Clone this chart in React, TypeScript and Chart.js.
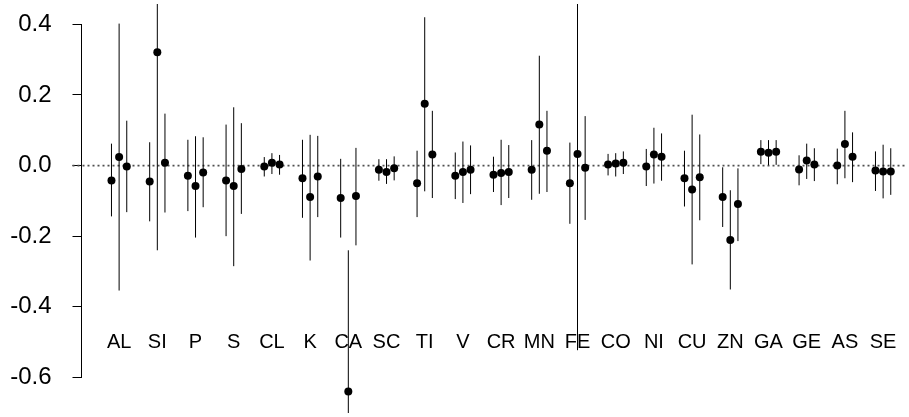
import { useEffect, useRef } from "react";
import { Chart, registerables } from "chart.js";
Chart.register(...registerables);

const ELEMENTS = ["AL","SI","P","S","CL","K","CA","SC","TI","V","CR","MN","FE","CO","NI","CU","ZN","GA","GE","AS","SE"];

const EST_A = [-0.042,-0.045,-0.029,-0.042,-0.003,-0.036,-0.092,-0.012,-0.050,-0.029,-0.026,-0.012,-0.050,0.003,-0.003,-0.036,-0.089,0.039,-0.011,0.000,-0.014];
const LO_A = [-0.144,-0.158,-0.129,-0.200,-0.031,-0.148,-0.204,-0.043,-0.146,-0.095,-0.075,-0.097,-0.165,-0.028,-0.058,-0.116,-0.174,0.004,-0.056,-0.053,-0.072];
const HI_A = [0.062,0.066,0.073,0.116,0.024,0.073,0.019,0.018,0.042,0.037,0.025,0.072,0.065,0.033,0.047,0.042,-0.005,0.072,0.029,0.048,0.040];

const EST_B = [0.024,0.321,-0.058,-0.058,0.008,-0.089,-0.640,-0.018,0.175,-0.018,-0.021,0.116,0.033,0.006,0.031,-0.068,-0.211,0.036,0.014,0.061,-0.017];
const LO_B = [-0.354,-0.240,-0.204,-0.285,-0.024,-0.269,-1.040,-0.052,-0.073,-0.106,-0.112,-0.080,-0.523,-0.031,-0.051,-0.280,-0.351,0.001,-0.038,-0.036,-0.093];
const HI_B = [0.402,0.880,0.083,0.165,0.035,0.087,-0.240,0.018,0.420,0.068,0.073,0.311,0.590,0.035,0.107,0.144,-0.070,0.072,0.062,0.155,0.059];

const EST_C = [-0.003,0.008,-0.020,-0.010,0.003,-0.031,-0.086,-0.008,0.031,-0.012,-0.018,0.042,-0.006,0.008,0.025,-0.033,-0.109,0.039,0.003,0.025,-0.017];
const LO_C = [-0.132,-0.133,-0.118,-0.137,-0.026,-0.146,-0.226,-0.042,-0.092,-0.081,-0.092,-0.075,-0.154,-0.024,-0.043,-0.155,-0.214,0.002,-0.044,-0.047,-0.083];
const HI_C = [0.127,0.147,0.080,0.120,0.030,0.084,0.050,0.026,0.155,0.057,0.058,0.155,0.140,0.040,0.091,0.088,-0.008,0.072,0.049,0.094,0.049];

const Y_TICKS = [-0.6, -0.4, -0.2, 0.0, 0.2, 0.4];
const OFFSETS = [-0.2, 0, 0.2];
const LABEL_Y = -0.5;

const FONT = "'Liberation Sans', Arial, Helvetica, sans-serif";

export default function App() {
  const ref = useRef<HTMLCanvasElement | null>(null);

  useEffect(() => {
    if (!ref.current) return;
    const series = [
      { est: EST_A, lo: LO_A, hi: HI_A, off: OFFSETS[0] },
      { est: EST_B, lo: LO_B, hi: HI_B, off: OFFSETS[1] },
      { est: EST_C, lo: LO_C, hi: HI_C, off: OFFSETS[2] },
    ];
    const points: any[] = [];
    const bars: any[] = [];
    series.forEach((s) => {
      ELEMENTS.forEach((_, i) => {
        const x = i + 1 + s.off;
        points.push({ x, y: s.est[i] });
        bars.push({ x, y: s.lo[i] }, { x, y: s.hi[i] }, { x, y: null });
      });
    });

    const decor = {
      id: "decor",
      beforeDatasetsDraw(chart: any) {
        const { ctx, chartArea, scales } = chart;
        const y0 = scales.y.getPixelForValue(0);
        ctx.save();
        ctx.strokeStyle = "#505050";
        ctx.lineWidth = 1.8;
        ctx.setLineDash([2, 3]);
        ctx.beginPath();
        ctx.moveTo(chartArea.left - 9, y0);
        ctx.lineTo(chartArea.right, y0);
        ctx.stroke();
        ctx.restore();
      },
      afterDraw(chart: any) {
        const { ctx, chartArea, scales } = chart;
        ctx.save();
        ctx.strokeStyle = "#000";
        ctx.lineWidth = 1;
        const yt = scales.y.getPixelForValue(Y_TICKS[Y_TICKS.length - 1]);
        const yb = scales.y.getPixelForValue(Y_TICKS[0]);
        ctx.beginPath();
        ctx.moveTo(chartArea.left, yt);
        ctx.lineTo(chartArea.left, yb);
        ctx.stroke();
        ctx.fillStyle = "#000";
        ctx.font = `20px ${FONT}`;
        ctx.textAlign = "center";
        ctx.textBaseline = "middle";
        const ly = scales.y.getPixelForValue(LABEL_Y);
        ELEMENTS.forEach((el, i) => {
          ctx.fillText(el, scales.x.getPixelForValue(i + 1), ly);
        });
        ctx.restore();
      },
    };

    const chart = new Chart(ref.current, {
      type: "scatter",
      data: {
        datasets: [
          {
            data: points,
            pointRadius: 4,
            pointHoverRadius: 4,
            backgroundColor: "#000",
            borderWidth: 0,
            showLine: false,
          },
          {
            data: bars,
            showLine: true,
            spanGaps: false,
            pointRadius: 0,
            borderColor: "#000",
            borderWidth: 1,
          } as any,
        ],
      },
      options: {
        animation: false,
        responsive: false,
        devicePixelRatio: 1,
        events: [],
        layout: { padding: 0 },
        plugins: { legend: { display: false }, tooltip: { enabled: false } },
        scales: {
          x: { type: "linear", display: false, min: 0.0152, max: 21.573 },
          y: {
            type: "linear",
            min: -0.7008,
            max: 0.4575,
            afterFit(scale: any) {
              scale.width = 81.5;
              scale.paddingTop = 0;
              scale.paddingBottom = 0;
            },
            afterBuildTicks(scale: any) { scale.ticks = Y_TICKS.map((v) => ({ value: v })); },
            border: { display: false },
            grid: { drawOnChartArea: false, drawTicks: true, tickLength: 9, color: "#000", lineWidth: 1 },
            ticks: {
              padding: 21,
              color: "#000",
              font: { family: FONT, size: 24 },
              callback: (v: any) => Number(v).toFixed(1),
            },
          },
        },
      },
      plugins: [decor],
    });
    return () => chart.destroy();
  }, []);

  return (
    <div style={{ position: "fixed", left: 0, top: 0, width: 909, height: 417, background: "#fff" }}>
      <canvas ref={ref} width={909} height={417} />
    </div>
  );
}
